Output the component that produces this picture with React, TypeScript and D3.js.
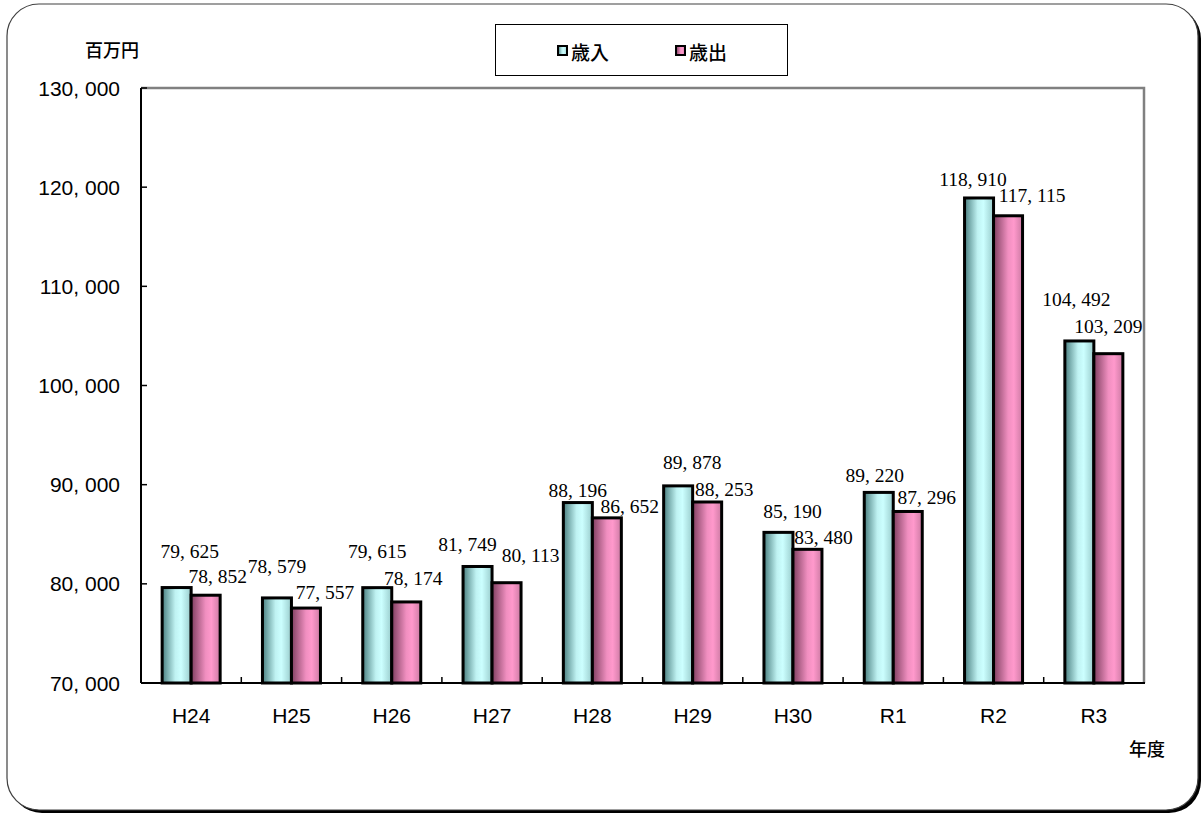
import * as d3 from "d3";

const years = ["H24", "H25", "H26", "H27", "H28", "H29", "H30", "R1", "R2", "R3"];
const revenue = [79625, 78579, 79615, 81749, 88196, 89878, 85190, 89220, 118910, 104492];
const expenditure = [78852, 77557, 78174, 80113, 86652, 88253, 83480, 87296, 117115, 103209];
const yTicks = [70000, 80000, 90000, 100000, 110000, 120000, 130000];
const seriesNames = ["歳入", "歳出"];

// hand placed label nudges (dx, dy from bar top centre), like the original
const revNudge = [[13, -36], [0, -31], [0, -36], [-10, -22], [0, -12], [14, -23], [14, -21], [-4, -17], [-6, -18], [-3, -41]];
const expNudge = [[12, -19], [19, -16], [7, -23], [24, -27], [23, -11], [17, -12], [16, -12], [19, -14], [24, -20], [0, -27]];

const W = 1203;
const H = 816;
const plot = { left: 141, right: 1144, top: 88, bottom: 683 };

const fmt = (v: number) => d3.format(",")(v).replace(",", ", ");

export default function App() {
  const x = d3.scaleBand().domain(years).range([plot.left, plot.right]);
  const y = d3.scaleLinear().domain([70000, 130000]).range([plot.bottom, plot.top]);
  const barW = 29;
  const sans = "'Liberation Sans', 'Noto Sans CJK JP', sans-serif";
  const jp = "'Noto Sans CJK JP', sans-serif";
  const serif = "'Liberation Serif', 'DejaVu Serif', serif";

  const series = [
    { values: revenue, fill: "url(#gCyan)", off: -barW, nudge: revNudge },
    { values: expenditure, fill: "url(#gPink)", off: 0, nudge: expNudge },
  ];

  return (
    <svg width={W} height={H} style={{ position: "absolute", left: 0, top: 0 }}>
      <defs>
        <linearGradient id="gCyan" x1="0" x2="1" y1="0" y2="0">
          <stop offset="0" stopColor="#4a7f80" />
          <stop offset="0.45" stopColor="#bff2f2" />
          <stop offset="0.65" stopColor="#ccffff" />
          <stop offset="1" stopColor="#99cccc" />
        </linearGradient>
        <linearGradient id="gPink" x1="0" x2="1" y1="0" y2="0">
          <stop offset="0" stopColor="#7f3f60" />
          <stop offset="0.5" stopColor="#f08fc0" />
          <stop offset="0.7" stopColor="#ff99cc" />
          <stop offset="1" stopColor="#cc7aa3" />
        </linearGradient>
      </defs>

      {/* outer frame with shadow */}
      <rect x={10} y={7} width={1191} height={806} rx={32} fill="#000" />
      <rect x={7} y={4} width={1191} height={806} rx={32} fill="#fff" stroke="#404040" strokeWidth={1.2} />

      {/* plot frame */}
      <path
        d={`M${plot.left},${plot.top}H${plot.right}V${plot.bottom}`}
        fill="none"
        stroke="#808080"
        strokeWidth={2.5}
      />

      {/* bars */}
      {series.map((s, si) =>
        years.map((yr, i) => {
          const cx = x(yr)! + x.bandwidth() / 2 + s.off;
          const top = y(s.values[i]);
          return (
            <rect
              key={`b${si}-${i}`}
              x={cx}
              y={top}
              width={barW}
              height={plot.bottom - top}
              fill={s.fill}
              stroke="#000"
              strokeWidth={3}
            />
          );
        })
      )}

      {/* axes */}
      <line x1={plot.left} x2={plot.left} y1={plot.top} y2={plot.bottom} stroke="#000" strokeWidth={2} />
      <line x1={plot.left} x2={plot.right + 1} y1={plot.bottom} y2={plot.bottom} stroke="#000" strokeWidth={2} />
      {yTicks.map((t) => (
        <g key={`yt${t}`}>
          <line x1={plot.left} x2={plot.left + 6} y1={y(t)} y2={y(t)} stroke="#000" strokeWidth={1.5} />
          <text x={120} y={y(t)} textAnchor="end" dominantBaseline="central" fontFamily={sans} fontSize={21}>
            {fmt(t)}
          </text>
        </g>
      ))}
      {years.slice(1).map((yr) => (
        <line key={`xt${yr}`} x1={x(yr)!} x2={x(yr)!} y1={plot.bottom} y2={plot.bottom - 6} stroke="#000" strokeWidth={1.5} />
      ))}
      {years.map((yr) => (
        <text
          key={`xl${yr}`}
          x={x(yr)! + x.bandwidth() / 2}
          y={715}
          textAnchor="middle"
          dominantBaseline="central"
          fontFamily={sans}
          fontSize={21}
        >
          {yr}
        </text>
      ))}

      {/* data labels */}
      {series.map((s, si) =>
        years.map((yr, i) => {
          const cx = x(yr)! + x.bandwidth() / 2 + s.off + barW / 2;
          return (
            <text
              key={`l${si}-${i}`}
              x={cx + s.nudge[i][0]}
              y={y(s.values[i]) + s.nudge[i][1]}
              textAnchor="middle"
              dominantBaseline="central"
              fontFamily={serif}
              fontSize={19.5}
              fill="#000"
            >
              {fmt(s.values[i])}
            </text>
          );
        })
      )}

      {/* unit labels */}
      <text x={112} y={49} textAnchor="middle" dominantBaseline="central" fontFamily={jp} fontSize={18} fontWeight={500}>
        百万円
      </text>
      <text x={1147} y={748} textAnchor="middle" dominantBaseline="central" fontFamily={jp} fontSize={18} fontWeight={500}>
        年度
      </text>

      {/* legend */}
      <rect x={495.5} y={24.5} width={292} height={51} fill="#fff" stroke="#000" strokeWidth={1} />
      {seriesNames.map((n, i) => {
        const lx = 557 + i * 118;
        return (
          <g key={`lg${n}`}>
            <rect x={lx + 1} y={46} width={9} height={9} fill={series[i].fill} stroke="#000" strokeWidth={2} />
            <text x={lx + 14} y={51} dominantBaseline="central" fontFamily={jp} fontSize={19} fontWeight={500}>
              {n}
            </text>
          </g>
        );
      })}
    </svg>
  );
}
